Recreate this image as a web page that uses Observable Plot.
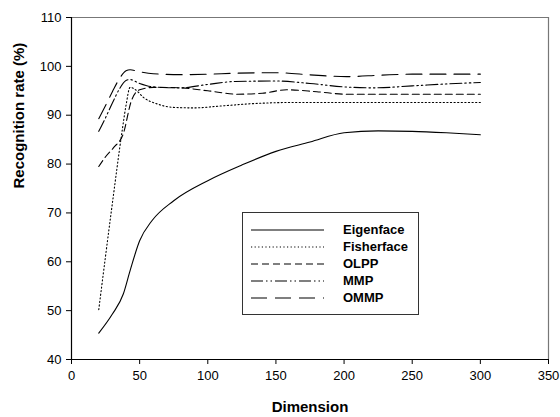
<!DOCTYPE html>
<html>
<head>
<meta charset="utf-8">
<script src="https://cdn.jsdelivr.net/npm/d3@7"></script>
<script src="https://cdn.jsdelivr.net/npm/@observablehq/plot@0.6"></script>
<style>
  html, body { margin: 0; padding: 0; background: #fff; }
  #wrap { position: relative; width: 560px; height: 417px; font-family: "Liberation Sans", Arial, sans-serif; }
  #legend { position: absolute; left: 242px; top: 212px; width: 175px; height: 101px; border: 1px solid #333; background: #fff; }
  .row { position: absolute; left: 8px; height: 17px; display: flex; align-items: center; }
  .row svg { width: 74px; height: 10px; }
  .row span { margin-left: 18px; font-weight: bold; font-size: 13px; color: #000; }
</style>
</head>
<body>
<div id="wrap"></div>
<script>
// ---- data ----
const seriesNames = ["Eigenface", "Fisherface", "OLPP", "MMP", "OMMP"];

const eigenX = [20, 30, 38, 43, 50, 59, 75, 100, 125, 150, 175, 200, 225, 250, 275, 300];
const eigenY = [45.4, 49.3, 53.4, 58.2, 64.3, 68.4, 72.5, 76.6, 79.8, 82.6, 84.5, 86.4, 86.8, 86.7, 86.4, 86.0];

const fisherX = [20, 30, 37, 40, 43, 47, 53, 63, 75, 90, 110, 135, 160, 200, 250, 300];
const fisherY = [50.2, 72.0, 86.5, 92.0, 95.7, 95.2, 93.6, 92.3, 91.6, 91.5, 91.9, 92.4, 92.6, 92.6, 92.6, 92.6];

const olppX = [20, 25, 31, 38, 44, 50, 60, 80, 100, 122, 140, 158, 180, 202, 250, 300];
const olppY = [79.5, 81.5, 83.4, 86.2, 93.0, 95.2, 95.7, 95.6, 95.0, 94.3, 94.5, 95.2, 94.8, 94.3, 94.3, 94.3];

const mmpX = [20, 25, 30, 35, 40, 43, 50, 60, 80, 100, 120, 150, 175, 200, 222, 250, 275, 300];
const mmpY = [86.7, 89.5, 92.5, 95.3, 97.1, 97.3, 96.5, 95.8, 95.6, 96.3, 96.9, 97.0, 96.5, 95.8, 95.6, 96.0, 96.4, 96.7];

const ommpX = [20, 25, 30, 35, 40, 43, 50, 60, 80, 100, 120, 150, 178, 202, 227, 250, 300];
const ommpY = [89.3, 92.0, 94.8, 97.4, 99.1, 99.3, 98.9, 98.5, 98.3, 98.4, 98.6, 98.7, 98.2, 97.9, 98.2, 98.4, 98.4];

const xTicks = [0, 50, 100, 150, 200, 250, 300, 350];
const yTicks = [40, 50, 60, 70, 80, 90, 100, 110];

// ---- styles ----
const dashes = {
  Eigenface: null,
  Fisherface: "1.2,2.4",
  OLPP: "7,4",
  MMP: "12,3,1.5,3,1.5,3",
  OMMP: "16,8"
};

const table = [];
const add = (name, xs, ys) => xs.forEach((x, i) => table.push({series: name, dim: x, rate: ys[i]}));
add("Eigenface", eigenX, eigenY);
add("Fisherface", fisherX, fisherY);
add("OLPP", olppX, olppY);
add("MMP", mmpX, mmpY);
add("OMMP", ommpX, ommpY);

const lineMarks = seriesNames.map(name =>
  Plot.line(table.filter(d => d.series === name), {
    x: "dim", y: "rate", stroke: "#000", strokeWidth: 1.1,
    strokeDasharray: dashes[name] || undefined,
    curve: "monotone-x"
  })
);

const chart = Plot.plot({
  width: 560,
  height: 417,
  marginLeft: 71,
  marginRight: 12,
  marginTop: 17,
  marginBottom: 58,
  style: {fontFamily: "Liberation Sans, Arial, sans-serif", fontSize: "13px", color: "#000", background: "#fff"},
  x: {domain: [0, 350]},
  y: {domain: [40, 110]},
  marks: [
    Plot.ruleY([110], {stroke: "#777", strokeWidth: 1.2}),
    Plot.ruleX([350], {stroke: "#777", strokeWidth: 1.2}),
    Plot.axisX({ticks: xTicks, tickSize: 5, tickPadding: 6, label: null, stroke: "#000"}),
    Plot.axisY({ticks: yTicks, tickSize: 5, tickPadding: 5, label: null, stroke: "#000"}),
    Plot.ruleX([0], {stroke: "#000", strokeWidth: 1.2}),
    Plot.ruleY([40], {stroke: "#000", strokeWidth: 1.2}),
    ...lineMarks,
    Plot.text(["Dimension"], {text: d => d, frameAnchor: "bottom", dy: 48, fontWeight: "bold", fontSize: 15, lineAnchor: "middle"}),
    Plot.text(["Recognition rate (%)"], {text: d => d, frameAnchor: "left", dx: -52, rotate: -90, fontWeight: "bold", fontSize: 15})
  ]
});

const wrap = document.getElementById("wrap");
wrap.appendChild(chart);

// ---- legend (inside the plot area) ----
const legend = document.createElement("div");
legend.id = "legend";
seriesNames.forEach((name, i) => {
  const row = document.createElement("div");
  row.className = "row";
  row.style.top = (8 + i * 17) + "px";
  const dash = dashes[name] ? ` stroke-dasharray="${dashes[name]}"` : "";
  row.innerHTML = `<svg viewBox="0 0 74 10"><line x1="0" y1="5" x2="73" y2="5" stroke="#000" stroke-width="1.1"${dash}/></svg><span>${name}</span>`;
  legend.appendChild(row);
});
wrap.appendChild(legend);
</script>
</body>
</html>
